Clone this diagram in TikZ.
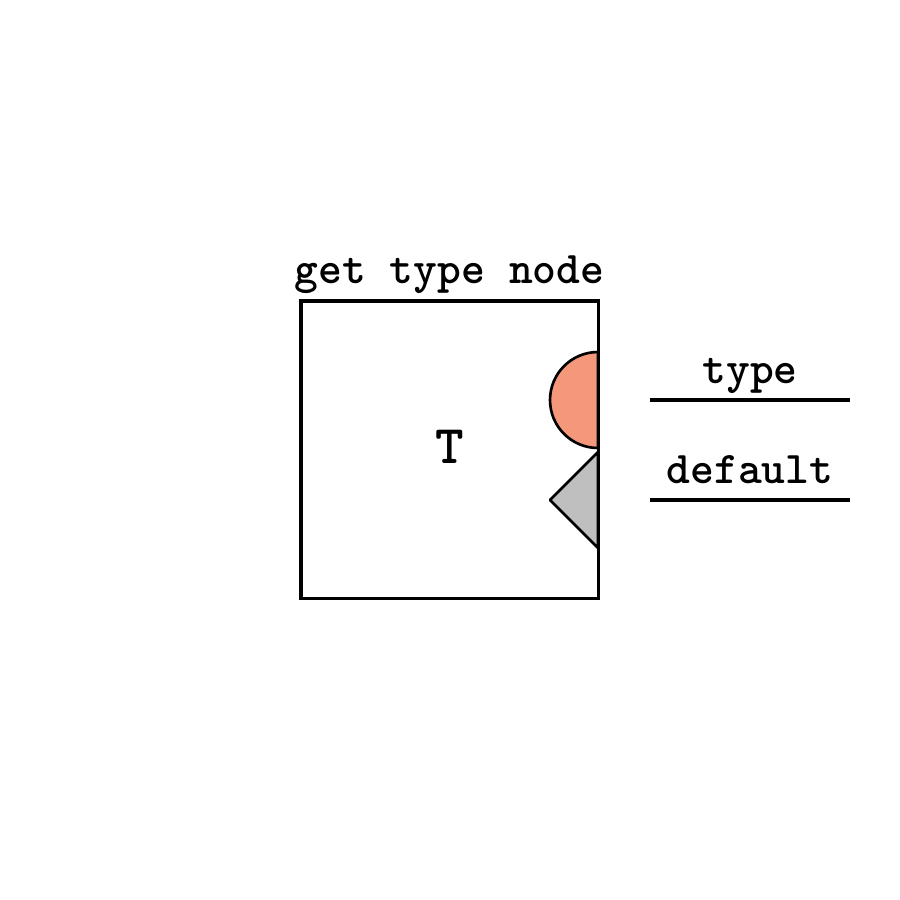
\documentclass[tikz,border=0pt]{standalone}
\usepackage{fontspec}
\usetikzlibrary{positioning}
\definecolor{portorange}{RGB}{245,151,122}
\definecolor{portgray}{RGB}{191,191,191}

\begin{document}
\begin{tikzpicture}[x=0.01cm, y=-0.01cm,
  fbox/.style={draw, line width=0.9pt, minimum width=2.97cm, minimum height=2.97cm, inner sep=0pt},
  lbl/.style={font=\ttfamily\bfseries\fontsize{12.9}{15}\selectfont, inner sep=0pt},
  port/.style={draw, line width=0.75pt, line join=round},
  wire/.style={line width=0.9pt}
]
  \useasboundingbox (0,0) rectangle (900,900);

  % function box with its name above
  \node[fbox] (fn) at (449.5,449.5) {};
  \node[lbl, anchor=base] (title) at (449.5,283) {get type node};
  \node[lbl, font=\ttfamily\bfseries\fontsize{15.5}{18}\selectfont] (tparam) at (449.5,447) {T};

  % ports on the right edge
  \draw[port, fill=portorange] (598,352) arc (270:90:48) -- cycle;
  \draw[port, fill=portgray] (598,452) -- (550,500) -- (598,548) -- cycle;

  % outputs
  \coordinate (typeL) at (650,400);
  \coordinate (typeR) at (850,400);
  \coordinate (defL) at (650,500);
  \coordinate (defR) at (850,500);
  \draw[wire] (typeL) -- (typeR);
  \draw[wire] (defL) -- (defR);
  \node[lbl, anchor=base] (typelbl) at (750,383) {type};
  \node[lbl, anchor=base] (deflbl) at (750,483) {default};
\end{tikzpicture}
\end{document}
